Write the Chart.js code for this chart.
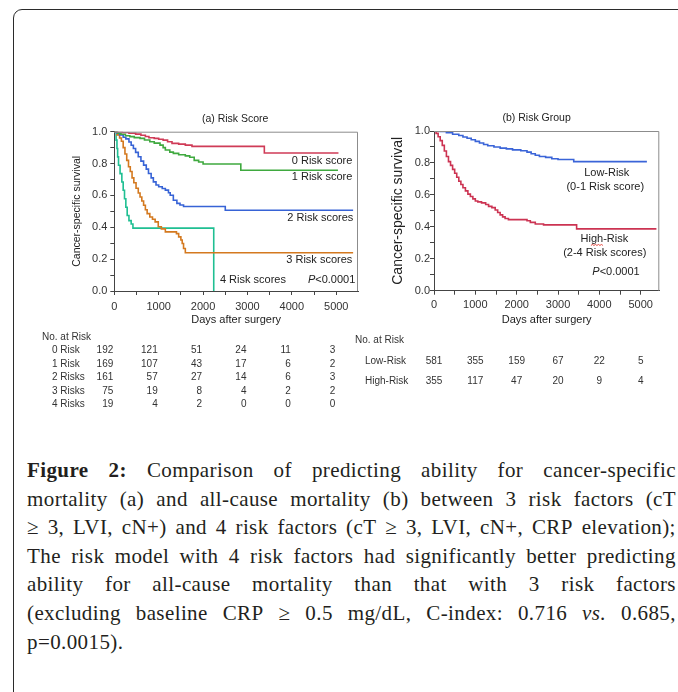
<!DOCTYPE html>
<html>
<head>
<meta charset="utf-8">
<script src="https://cdn.jsdelivr.net/npm/chart.js@4.4.1/dist/chart.umd.min.js"></script>
<style>
  html, body { margin:0; padding:0; background:#fff; }
  body { width:678px; height:692px; position:relative; overflow:hidden; }
  #frame { position:absolute; left:13px; top:9px; width:720px; height:740px; border:1.5px solid #2b2b2b; border-radius:9px; }
  #wrapA { position:absolute; left:20px; top:105px; }
  #wrapB { position:absolute; left:350px; top:105px; }
  #caption { position:absolute; left:27px; top:456px; width:649px; font-family:"Liberation Serif","Times New Roman",serif;
             font-size:21px; letter-spacing:0.4px; line-height:28.6px; color:#231f20; }
  .ln { display:flex; justify-content:space-between; white-space:nowrap; }
  .ln.last { justify-content:flex-start; }
</style>
</head>
<body>
<div id="frame"></div>
<div id="wrapA"><canvas id="chartA" width="345" height="315"></canvas></div>
<div id="wrapB"><canvas id="chartB" width="328" height="300"></canvas></div>
<div id="caption"></div>

<script>
/* ======= Dados ======= */
const xTickDays = [0, 500, 1000, 1500, 2000, 2500, 3000, 3500, 4000, 4500, 5000];
const survTicks = [0, 0.1, 0.2, 0.3, 0.4, 0.5, 0.6, 0.7, 0.8, 0.9, 1.0];
const atRiskDays = [0, 1000, 2000, 3000, 4000, 5000];

// (a) Risk Score - curvas KM
const score0Days = [0, 180, 330, 480, 600, 700, 780, 900, 1000, 1100, 1200, 1300, 1450, 1600, 1750, 3380, 5050];
const score0Surv = [1, 0.995, 0.99, 0.985, 0.978, 0.97, 0.962, 0.958, 0.953, 0.947, 0.937, 0.927, 0.922, 0.916, 0.908, 0.866, 0.866];

const score1Days = [0, 80, 150, 250, 350, 450, 580, 680, 800, 900, 1030, 1100, 1150, 1250, 1330, 1450, 1600, 1700, 1800, 1900, 2000, 2850, 5040];
const score1Surv = [1, 0.99, 0.984, 0.975, 0.969, 0.963, 0.958, 0.948, 0.937, 0.928, 0.916, 0.9, 0.885, 0.872, 0.864, 0.855, 0.848, 0.84, 0.82, 0.81, 0.797, 0.758, 0.758];

const score2Days = [0, 60, 120, 200, 260, 330, 380, 430, 480, 540, 600, 660, 720, 770, 830, 880, 940, 1000, 1080, 1150, 1220, 1260, 1330, 1410, 1480, 1560, 2500, 5380];
const score2Surv = [1, 0.99, 0.98, 0.965, 0.955, 0.935, 0.915, 0.895, 0.87, 0.843, 0.815, 0.79, 0.765, 0.738, 0.71, 0.685, 0.665, 0.654, 0.643, 0.633, 0.617, 0.601, 0.57, 0.55, 0.54, 0.53, 0.507, 0.507];

const score3Days = [0, 60, 120, 160, 200, 240, 280, 320, 360, 400, 440, 490, 540, 580, 620, 660, 700, 740, 800, 860, 920, 990, 1060, 1150, 1400, 1450, 1500, 1530, 1560, 1600, 5380];
const score3Surv = [1, 0.98, 0.96, 0.94, 0.9, 0.86, 0.82, 0.78, 0.75, 0.71, 0.68, 0.645, 0.615, 0.59, 0.565, 0.538, 0.51, 0.486, 0.465, 0.45, 0.434, 0.403, 0.39, 0.371, 0.36, 0.34, 0.32, 0.298, 0.267, 0.24, 0.24];

const score4Days = [0, 40, 60, 75, 95, 130, 170, 200, 230, 260, 290, 330, 380, 420, 2240];
const score4Surv = [1, 0.947, 0.895, 0.842, 0.789, 0.737, 0.684, 0.632, 0.579, 0.526, 0.474, 0.442, 0.421, 0.395, 0];

// (b) Risk Group
const lowDays = [0, 150, 300, 450, 600, 700, 800, 900, 1000, 1100, 1200, 1300, 1450, 1600, 1750, 1900, 2100, 2250, 2350, 2450, 2550, 2700, 2850, 3000, 3380, 5150];
const lowSurv = [1, 0.997, 0.99, 0.98, 0.972, 0.962, 0.955, 0.945, 0.935, 0.925, 0.915, 0.908, 0.9, 0.893, 0.888, 0.882, 0.876, 0.868, 0.858, 0.848, 0.84, 0.835, 0.826, 0.822, 0.808, 0.808];

const highDays = [0, 50, 100, 150, 200, 250, 300, 350, 400, 450, 500, 550, 600, 650, 700, 760, 820, 880, 940, 1000, 1060, 1150, 1250, 1320, 1400, 1480, 1540, 1600, 1660, 1720, 1800, 2250, 2330, 2450, 2650, 3450, 5380];
const highSurv = [1, 0.985, 0.964, 0.94, 0.91, 0.875, 0.84, 0.808, 0.785, 0.76, 0.735, 0.71, 0.685, 0.665, 0.645, 0.625, 0.605, 0.59, 0.575, 0.562, 0.556, 0.55, 0.54, 0.528, 0.52, 0.505, 0.49, 0.475, 0.462, 0.452, 0.445, 0.438, 0.428, 0.418, 0.412, 0.387, 0.387];

// Nomes e tabelas "No. at Risk"
const scoreNames = ['0 Risk score', '1 Risk score', '2 Risk scores', '3 Risk scores', '4 Risk scores'];
const scoreRows = ['0 Risk', '1 Risk', '2 Risks', '3 Risks', '4 Risks'];
const atRisk0 = [192, 121, 51, 24, 11, 3];
const atRisk1 = [169, 107, 43, 17, 6, 2];
const atRisk2 = [161, 57, 27, 14, 6, 3];
const atRisk3 = [75, 19, 8, 4, 2, 2];
const atRisk4 = [19, 4, 2, 0, 0, 0];

const groupRows = ['Low-Risk', 'High-Risk'];
const atRiskLow = [581, 355, 159, 67, 22, 5];
const atRiskHigh = [355, 117, 47, 20, 9, 4];

/* ======= Estilo ======= */
const FONT = '"Liberation Sans", Arial, sans-serif';
const scoreColors = ['#cf3b57', '#3fa93f', '#3763d6', '#d4791f', '#1fbf92'];
const lowColor = '#3a64d8';
const highColor = '#cc3352';

function kmSet(days, surv, color) {
  return {
    data: days.map((d, i) => ({ x: d, y: surv[i] })),
    borderColor: color, borderWidth: 1.6, stepped: 'before',
    pointRadius: 0, fill: false
  };
}

function drawPValue(ctx, x, y, size, align) {
  ctx.font = 'italic ' + size + 'px ' + FONT;
  const wP = ctx.measureText('P').width;
  ctx.font = size + 'px ' + FONT;
  const wR = ctx.measureText('<0.0001').width;
  let left = align === 'right' ? x - wP - wR : x - (wP + wR) / 2;
  ctx.textAlign = 'left';
  ctx.font = 'italic ' + size + 'px ' + FONT;
  ctx.fillText('P', left, y);
  ctx.font = size + 'px ' + FONT;
  ctx.fillText('<0.0001', left + wP, y);
}

// sublinhado ondulado vermelho (corretor ortografico) sob parte de um rotulo centrado
function drawSquiggle(ctx, text, before, part, cx, cy) {
  const full = ctx.measureText(text).width;
  const x0 = cx - full / 2 + ctx.measureText(before).width;
  const x1 = x0 + ctx.measureText(part).width;
  ctx.save();
  ctx.strokeStyle = '#e0352b'; ctx.lineWidth = 0.9;
  ctx.beginPath();
  let up = true;
  ctx.moveTo(x0, cy + 6.5);
  for (let xx = x0 + 1.5; xx <= x1 + 0.1; xx += 1.5) {
    ctx.lineTo(xx, cy + (up ? 5.5 : 6.5));
    up = !up;
  }
  ctx.stroke();
  ctx.restore();
}

/* ======= Plugin do painel: moldura, titulo, rotulos, tabela ======= */
function panelPlugin(p) {
  return {
    id: 'panel' + p.key,
    afterDraw(chart) {
      const { ctx, chartArea: a, scales: { x, y } } = chart;
      ctx.save();
      // moldura superior e direita
      ctx.strokeStyle = '#8c8c8c'; ctx.lineWidth = 1;
      ctx.beginPath();
      ctx.moveTo(a.left, a.top + 0.5);
      ctx.lineTo(a.right - 0.5, a.top + 0.5);
      ctx.lineTo(a.right - 0.5, a.bottom);
      ctx.stroke();

      // titulo
      ctx.fillStyle = '#222';
      ctx.font = '10.5px ' + FONT;
      ctx.textAlign = 'center'; ctx.textBaseline = 'middle';
      ctx.fillText(p.title, (a.left + a.right) / 2 + p.titleShift, a.top - 12.5);

      // rotulos dentro do grafico
      ctx.font = p.labelSize + 'px ' + FONT;
      p.labels.forEach(l => {
        ctx.textAlign = l.align;
        const px = x.getPixelForValue(l.x), py = y.getPixelForValue(l.y);
        ctx.fillText(l.text, px, py);
        if (l.squiggle) drawSquiggle(ctx, l.text, l.squiggle[0], l.squiggle[1], px, py);
      });
      drawPValue(ctx, x.getPixelForValue(p.pPos[0]), y.getPixelForValue(p.pPos[1]), p.labelSize, p.pAlign);

      // tabela No. at Risk
      ctx.fillStyle = '#333';
      ctx.font = '10px ' + FONT;
      ctx.textAlign = 'left';
      ctx.fillText('No. at Risk', p.table.headX, p.table.headY);
      p.table.rows.forEach((name, r) => {
        const yy = p.table.rowY[r];
        ctx.textAlign = 'left';
        ctx.fillText(name, p.table.labelX, yy);
        ctx.textAlign = p.table.numAlign;
        p.table.values[r].forEach((v, c) => {
          ctx.fillText(String(v), x.getPixelForValue(atRiskDays[c]) + p.table.numShift, yy);
        });
      });
      ctx.restore();
    }
  };
}

function makeOptions(o) {
  return {
    responsive: false, animation: false,
    layout: { padding: { left: o.padLeft, right: o.padRight, top: o.padTop, bottom: o.padBottom } },
    plugins: { legend: { display: false }, tooltip: { enabled: false } },
    scales: {
      x: {
        type: 'linear', min: 0, max: o.xMax,
        afterBuildTicks: s => { s.ticks = xTickDays.map(v => ({ value: v })); },
        afterFit: s => { s.height = 36; },
        ticks: { autoSkip: false, maxRotation: 0, padding: o.xTickPad, color: '#333',
                 font: { family: FONT, size: 11 },
                 callback: v => (v % 1000 === 0 ? String(v) : '') },
        grid: { drawOnChartArea: false, drawTicks: true, tickLength: 4, color: '#444' },
        border: { color: '#444', width: 1 },
        title: { display: true, text: 'Days after surgery', color: '#222', padding: 0,
                 font: { family: FONT, size: 11 } }
      },
      y: {
        type: 'linear', min: 0, max: 1,
        afterBuildTicks: s => { s.ticks = survTicks.map(v => ({ value: v })); },
        afterFit: s => { s.width = o.yWidth; },
        ticks: { autoSkip: false, padding: o.yTickPad, color: '#333', font: { family: FONT, size: 11 },
                 callback: v => (Math.round(v * 10) % 2 === 0 ? Number(v).toFixed(1) : '') },
        grid: { drawOnChartArea: false, drawTicks: true, tickLength: 4, color: '#444' },
        border: { color: '#444', width: 1 },
        title: { display: true, text: 'Cancer-specific survival', color: '#222', padding: 0,
                 font: { family: FONT, size: o.yTitleSize } }
      }
    }
  };
}

/* ======= Grafico (a) ======= */
const scoreDays = [score0Days, score1Days, score2Days, score3Days, score4Days];
const scoreSurv = [score0Surv, score1Surv, score2Surv, score3Surv, score4Surv];
const scoreLabelPos = [[5362, 0.816], [5362, 0.716], [5385, 0.458], [5362, 0.195], [3866, 0.069]];

new Chart(document.getElementById('chartA'), {
  type: 'line',
  data: { datasets: scoreDays.map((d, i) => kmSet(d, scoreSurv[i], scoreColors[i])) },
  options: makeOptions({ xMax: 5490, padLeft: 51, padRight: 7, padTop: 26.7, padBottom: 93,
                         yWidth: 43.3, yTitleSize: 10.5, xTickPad: 5, yTickPad: 3 }),
  plugins: [panelPlugin({
    key: 'A', title: '(a) Risk Score', titleShift: -1, labelSize: 11,
    labels: scoreNames.map((t, i) => ({ text: t, x: scoreLabelPos[i][0], y: scoreLabelPos[i][1], align: 'right' })),
    pPos: [5430, 0.069], pAlign: 'right',
    table: { headX: 22, headY: 232, labelX: 32, rowY: [245.7, 259.3, 272.7, 286, 299.5],
             rows: scoreRows, values: [atRisk0, atRisk1, atRisk2, atRisk3, atRisk4],
             numAlign: 'right', numShift: -1 }
  })]
});

/* ======= Grafico (b) ======= */
const groupLabelPos = [
  ['Low-Risk', 4179, 0.737], ['(0-1 Risk score)', 4143, 0.651],
  ['High-Risk', 4121, 0.324], ['(2-4 Risk scores)', 4130, 0.238]
];

new Chart(document.getElementById('chartB'), {
  type: 'line',
  data: { datasets: [kmSet(lowDays, lowSurv, lowColor), kmSet(highDays, highSurv, highColor)] },
  options: makeOptions({ xMax: 5450, padLeft: 39.6, padRight: 18.7, padTop: 26, padBottom: 78.3,
                         yWidth: 44.4, yTitleSize: 14, xTickPad: 4, yTickPad: 0 }),
  plugins: [panelPlugin({
    key: 'B', title: '(b) Risk Group', titleShift: -10, labelSize: 11,
    labels: groupLabelPos.map(g => ({ text: g[0], x: g[1], y: g[2], align: 'center',
                                      squiggle: g[0] === 'High-Risk' ? ['Hi', 'gh'] : null })),
    pPos: [4403, 0.119], pAlign: 'center',
    table: { headX: 5, headY: 235, labelX: 15, rowY: [256, 276],
             rows: groupRows, values: [atRiskLow, atRiskHigh],
             numAlign: 'center', numShift: 0 }
  })]
});

/* ======= Legenda da figura ======= */
const captionLines = [
  '<b>Figure</b> <b>2:</b> Comparison of predicting ability for cancer-specific',
  'mortality (a) and all-cause mortality (b) between 3 risk factors (cT',
  '≥ 3, LVI, cN+) and 4 risk factors (cT ≥ 3, LVI, cN+, CRP elevation);',
  'The risk model with 4 risk factors had significantly better predicting',
  'ability for all-cause mortality than that with 3 risk factors',
  '(excluding baseline CRP ≥ 0.5 mg/dL, C-index: 0.716 <i>vs.</i> 0.685,',
  'p=0.0015).'
];
const cap = document.getElementById('caption');
captionLines.forEach((line, i) => {
  const div = document.createElement('div');
  div.className = 'ln' + (i === captionLines.length - 1 ? ' last' : '');
  line.split(' ').forEach(w => {
    const s = document.createElement('span');
    s.innerHTML = w;
    div.appendChild(s);
  });
  cap.appendChild(div);
});
</script>
</body>
</html>
